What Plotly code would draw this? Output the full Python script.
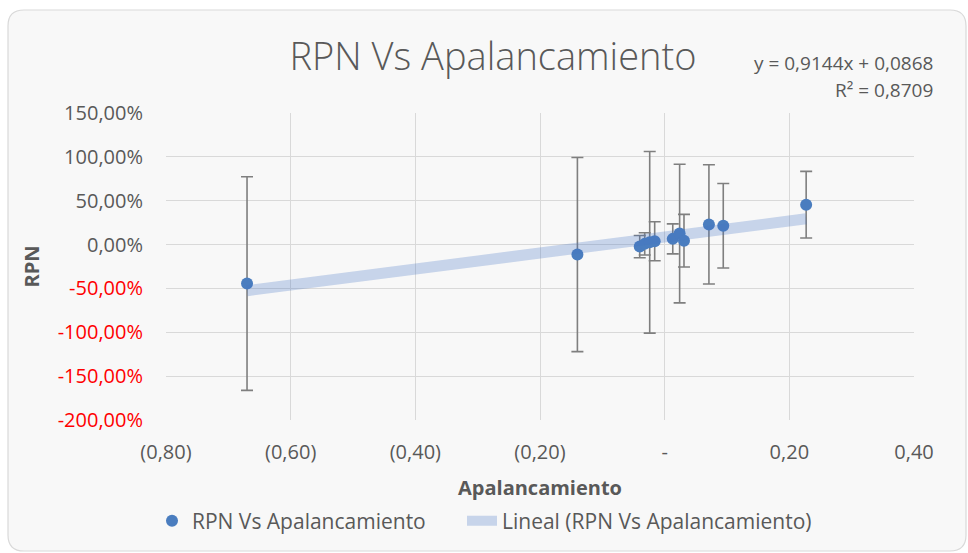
import plotly.graph_objects as go

# ---- data ----
x_apal = [-0.670, -0.140, -0.040, -0.032, -0.024, -0.016, 0.013, 0.024, 0.031, 0.071, 0.094, 0.227]
y_rpn = [-0.444, -0.114, -0.023, 0.008, 0.026, 0.038, 0.065, 0.125, 0.044, 0.230, 0.215, 0.455]
err_rpn = [1.218, 1.107, 0.127, 0.127, 1.035, 0.222, 0.171, 0.790, 0.300, 0.680, 0.482, 0.380]

slope = 0.9144
intercept = 0.0868
r2 = 0.8709

x_tickvals = [-0.8, -0.6, -0.4, -0.2, 0.0, 0.2, 0.4]
x_ticktext = ["(0,80)", "(0,60)", "(0,40)", "(0,20)", "-", "0,20", "0,40"]
y_tickvals = [1.5, 1.0, 0.5, 0.0, -0.5, -1.0, -1.5, -2.0]
y_labels = ["150,00%", "100,00%", "50,00%", "0,00%", "-50,00%", "-100,00%", "-150,00%", "-200,00%"]

series_name = "RPN Vs Apalancamiento"
trend_name = "Lineal (RPN Vs Apalancamiento)"

# ---- layout geometry ----
W, H = 968, 553
L, R, T, B = 166, 914, 113, 420


def px(xp):
    return (xp - L) / (R - L)


def py(yp):
    return (B - yp) / (B - T)


y_ticktext = [
    (f'<span style="color:#ff0000">{t}</span>' if v < 0 else t)
    for t, v in zip(y_labels, y_tickvals)
]

x_line = [min(x_apal), max(x_apal)]
y_line = [slope * v + intercept for v in x_line]

fig = go.Figure()

fig.add_trace(go.Scatter(
    x=x_apal, y=y_rpn, mode="markers", name=series_name, legend="legend",
    showlegend=True,
    marker=dict(color="#4a7dbf", size=12),
    error_y=dict(type="data", array=err_rpn, visible=True,
                 color="#7f7f7f", thickness=1.6, width=6),
))

fig.add_trace(go.Scatter(
    x=x_line, y=y_line, mode="lines", name=trend_name, legend="legend2",
    showlegend=True,
    line=dict(color="rgba(68,114,196,0.27)", width=11),
))

# rounded chart border
r = 16
x0, y0, x1, y1 = 8, 10, 966, 551
path = (
    f"M {px(x0 + r)},{py(y0)} L {px(x1 - r)},{py(y0)} "
    f"Q {px(x1)},{py(y0)} {px(x1)},{py(y0 + r)} "
    f"L {px(x1)},{py(y1 - r)} Q {px(x1)},{py(y1)} {px(x1 - r)},{py(y1)} "
    f"L {px(x0 + r)},{py(y1)} Q {px(x0)},{py(y1)} {px(x0)},{py(y1 - r)} "
    f"L {px(x0)},{py(y0 + r)} Q {px(x0)},{py(y0)} {px(x0 + r)},{py(y0)} Z"
)

TXT = "#595959"
FS = 20

legend_common = dict(orientation="h", xanchor="left", y=py(521), yanchor="middle",
                     bgcolor="rgba(0,0,0,0)", font=dict(size=21, color=TXT),
                     visible=True)

fig.update_layout(
    width=W, height=H,
    showlegend=True,
    margin=dict(l=L, r=W - R, t=T, b=H - B),
    paper_bgcolor="white",
    plot_bgcolor="rgba(255,255,255,0.7)",
    font=dict(family="Open Sans", color=TXT, size=FS),
    title=dict(text="RPN Vs Apalancamiento", x=493 / W, xanchor="center",
               y=1 - 57 / H, yanchor="middle",
               font=dict(family="Open Sans", size=38, color=TXT, weight=300)),
    shapes=[dict(type="path", path=path, xref="paper", yref="paper",
                 line=dict(color="#d9d9d9", width=1.2), fillcolor="#f8f8f8",
                 layer="below")],
    xaxis=dict(range=[-0.8, 0.4], tickvals=x_tickvals, ticktext=x_ticktext,
               showgrid=True, gridcolor="#d9d9d9", gridwidth=1,
               zeroline=False, showline=False, ticks="",
               ticklabelstandoff=18,
               tickfont=dict(size=FS, color=TXT),
               title=dict(text="<b>Apalancamiento</b>", standoff=16,
                          font=dict(size=FS, color=TXT))),
    yaxis=dict(range=[-2.0, 1.5], tickvals=y_tickvals, ticktext=y_ticktext,
               showgrid=True, gridcolor="#d9d9d9", gridwidth=1,
               zeroline=False, showline=False, ticks="",
               ticklabelstandoff=22,
               tickfont=dict(size=FS, color=TXT),
               title=dict(text="<b>RPN</b>", standoff=12,
                          font=dict(size=FS, color=TXT))),
    legend=dict(x=px(152), **legend_common),
    legend2=dict(x=px(462), **legend_common),
    annotations=[
        dict(text="y = 0,9144x + 0,0868", xref="paper", yref="paper",
             x=px(935), y=py(63), xanchor="right", yanchor="middle",
             showarrow=False, font=dict(size=19, color=TXT)),
        dict(text="R² = 0,8709", xref="paper", yref="paper",
             x=px(935), y=py(90), xanchor="right", yanchor="middle",
             showarrow=False, font=dict(size=19, color=TXT)),
    ],
)

fig.write_html("out.html", config={"displayModeBar": False},
               post_script="document.body.style.margin='0';document.body.style.overflow='hidden';")
